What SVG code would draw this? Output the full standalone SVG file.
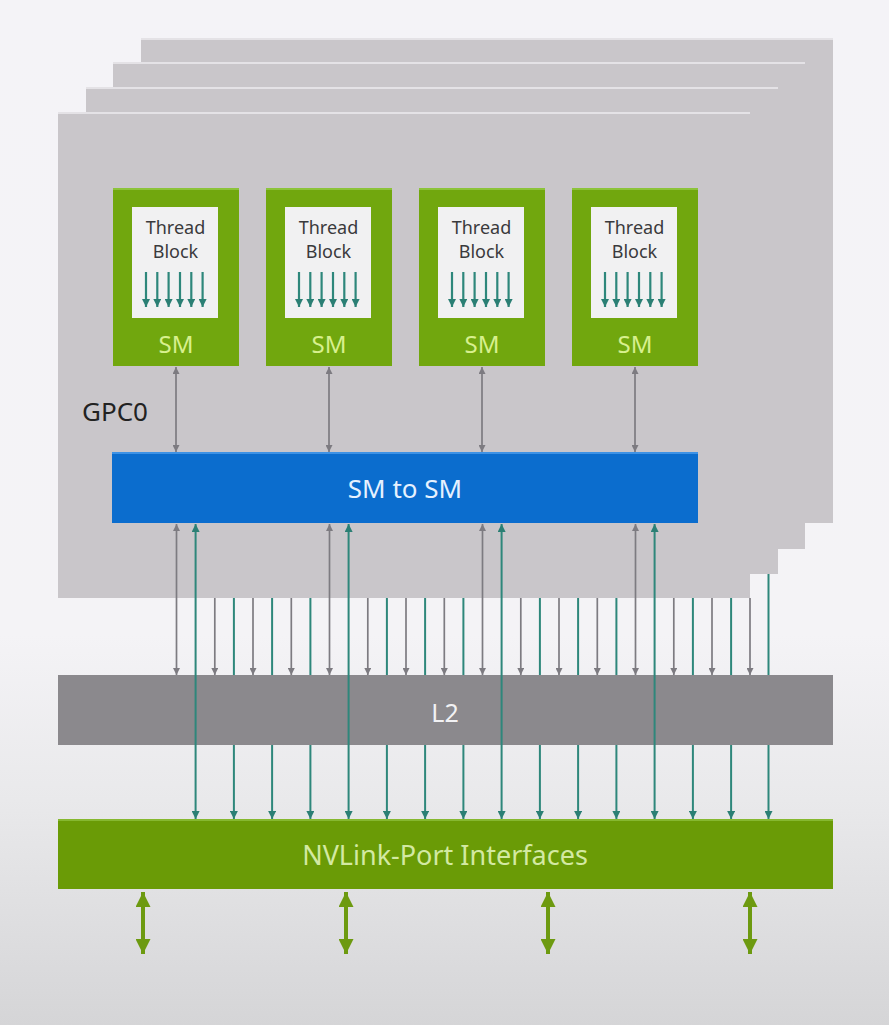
<svg xmlns="http://www.w3.org/2000/svg" width="889" height="1025" viewBox="0 0 889 1025">
<defs>
<linearGradient id="bg" x1="0" y1="0" x2="0" y2="1">
<stop offset="0" stop-color="#f4f3f7"/>
<stop offset="0.62" stop-color="#f4f3f6"/>
<stop offset="0.78" stop-color="#e9e9eb"/>
<stop offset="1" stop-color="#d5d5d7"/>
</linearGradient>
<marker id="ag" viewBox="0 0 8 8" refX="8" refY="4" markerWidth="7" markerHeight="7" markerUnits="userSpaceOnUse" orient="auto-start-reverse"><path d="M0,0 L8,4 L0,8 z" fill="#7d7b81"/></marker>
<marker id="at" viewBox="0 0 8 8" refX="8" refY="4" markerWidth="8" markerHeight="8" markerUnits="userSpaceOnUse" orient="auto-start-reverse"><path d="M0,0 L8,4 L0,8 z" fill="#2b7f74"/></marker>
<marker id="atb" viewBox="0 0 8 8" refX="8" refY="4" markerWidth="8" markerHeight="8" markerUnits="userSpaceOnUse" orient="auto"><path d="M0,0 L8,4 L0,8 z" fill="#2b7f74"/></marker>
<marker id="agr" viewBox="0 0 16 16" refX="16" refY="8" markerWidth="15" markerHeight="15" markerUnits="userSpaceOnUse" orient="auto-start-reverse"><path d="M0,0 L16,8 L0,16 z" fill="#6d9a10"/></marker>
<g id="tbarrows" stroke="#2e877b" stroke-width="2.2" marker-end="url(#atb)">
<line x1="33" y1="84" x2="33" y2="119"/><line x1="44.3" y1="84" x2="44.3" y2="119"/><line x1="55.6" y1="84" x2="55.6" y2="119"/><line x1="67" y1="84" x2="67" y2="119"/><line x1="78.3" y1="84" x2="78.3" y2="119"/><line x1="89.6" y1="84" x2="89.6" y2="119"/>
</g>
</defs>
<style>
.layer{fill:#c9c6ca;}
.edge{fill:#e4e2e6;}
.smbox{fill:#71a70e;}
.smtop{fill:#8cc33a;}
.tb{fill:#f1f1f2;}
.tbt{font-family:"Noto Sans","Open Sans",sans-serif;font-size:18px;fill:#3a3a3c;text-anchor:middle;}
.smt{font-family:"Noto Sans","Open Sans",sans-serif;font-size:24px;fill:#d8f08e;text-anchor:middle;}
.lbl{font-family:"Noto Sans","Open Sans",sans-serif;text-anchor:middle;}
.ga{stroke:#7d7b81;stroke-width:1.7;fill:none;}
.ta{stroke:#2e877b;stroke-width:2;fill:none;}
.gr{stroke:#6d9a10;stroke-width:4;fill:none;}
</style>
<rect x="0" y="0" width="889" height="1025" fill="url(#bg)"/>
<g id="gpc-layers">
<rect class="layer" x="141" y="38" width="692" height="485"/>
<rect class="edge" x="141" y="38" width="692" height="2"/>
<rect class="layer" x="113" y="62" width="692" height="487"/>
<rect class="edge" x="113" y="62" width="692" height="2"/>
<rect class="layer" x="86" y="87" width="692" height="487"/>
<rect class="edge" x="86" y="87" width="692" height="2"/>
<rect class="layer" x="58" y="112" width="692" height="486"/>
<rect class="edge" x="58" y="112" width="692" height="2"/>
</g>
<g id="gpc0-label"><text class="lbl" x="115" y="421" font-size="26" fill="#222">GPC0</text></g>
<g id="sm0" transform="translate(113,188)">
<rect class="smbox" x="0" y="0" width="126" height="178"/><rect class="smtop" x="0" y="0" width="126" height="2"/>
<rect class="tb" x="19" y="19" width="86" height="111"/>
<text class="tbt" x="62.5" y="46">Thread</text><text class="tbt" x="62.5" y="70">Block</text>
<use href="#tbarrows"/>
<text class="smt" x="63" y="165">SM</text>
</g>
<g id="sm1" transform="translate(266,188)">
<rect class="smbox" x="0" y="0" width="126" height="178"/><rect class="smtop" x="0" y="0" width="126" height="2"/>
<rect class="tb" x="19" y="19" width="86" height="111"/>
<text class="tbt" x="62.5" y="46">Thread</text><text class="tbt" x="62.5" y="70">Block</text>
<use href="#tbarrows"/>
<text class="smt" x="63" y="165">SM</text>
</g>
<g id="sm2" transform="translate(419,188)">
<rect class="smbox" x="0" y="0" width="126" height="178"/><rect class="smtop" x="0" y="0" width="126" height="2"/>
<rect class="tb" x="19" y="19" width="86" height="111"/>
<text class="tbt" x="62.5" y="46">Thread</text><text class="tbt" x="62.5" y="70">Block</text>
<use href="#tbarrows"/>
<text class="smt" x="63" y="165">SM</text>
</g>
<g id="sm3" transform="translate(572,188)">
<rect class="smbox" x="0" y="0" width="126" height="178"/><rect class="smtop" x="0" y="0" width="126" height="2"/>
<rect class="tb" x="19" y="19" width="86" height="111"/>
<text class="tbt" x="62.5" y="46">Thread</text><text class="tbt" x="62.5" y="70">Block</text>
<use href="#tbarrows"/>
<text class="smt" x="63" y="165">SM</text>
</g>
<g id="sm-to-sm">
<rect x="112" y="452" width="586" height="71" fill="#0b6dce"/>
<rect x="112" y="452" width="586" height="2" fill="#3d92e6"/>
<text class="lbl" x="405" y="498" font-size="26" fill="#e6f1ff">SM to SM</text>
</g>
<g id="connectors-upper">
<line class="ga" x1="176" y1="367" x2="176" y2="452" marker-start="url(#ag)" marker-end="url(#ag)"/>
<line class="ga" x1="329" y1="367" x2="329" y2="452" marker-start="url(#ag)" marker-end="url(#ag)"/>
<line class="ga" x1="482" y1="367" x2="482" y2="452" marker-start="url(#ag)" marker-end="url(#ag)"/>
<line class="ga" x1="635" y1="367" x2="635" y2="452" marker-start="url(#ag)" marker-end="url(#ag)"/>
<line class="ga" x1="214.8" y1="598" x2="214.8" y2="675" marker-end="url(#ag)"/>
<line class="ga" x1="253" y1="598" x2="253" y2="675" marker-end="url(#ag)"/>
<line class="ga" x1="291.3" y1="598" x2="291.3" y2="675" marker-end="url(#ag)"/>
<line class="ga" x1="367.8" y1="598" x2="367.8" y2="675" marker-end="url(#ag)"/>
<line class="ga" x1="406" y1="598" x2="406" y2="675" marker-end="url(#ag)"/>
<line class="ga" x1="444.3" y1="598" x2="444.3" y2="675" marker-end="url(#ag)"/>
<line class="ga" x1="520.8" y1="598" x2="520.8" y2="675" marker-end="url(#ag)"/>
<line class="ga" x1="559" y1="598" x2="559" y2="675" marker-end="url(#ag)"/>
<line class="ga" x1="597.3" y1="598" x2="597.3" y2="675" marker-end="url(#ag)"/>
<line class="ga" x1="673.8" y1="598" x2="673.8" y2="675" marker-end="url(#ag)"/>
<line class="ga" x1="712" y1="598" x2="712" y2="675" marker-end="url(#ag)"/>
<line class="ga" x1="750" y1="598" x2="750" y2="675" marker-end="url(#ag)"/>
<line class="ga" x1="176.5" y1="524" x2="176.5" y2="675" marker-start="url(#ag)" marker-end="url(#ag)"/>
<line class="ga" x1="329.5" y1="524" x2="329.5" y2="675" marker-start="url(#ag)" marker-end="url(#ag)"/>
<line class="ga" x1="482.5" y1="524" x2="482.5" y2="675" marker-start="url(#ag)" marker-end="url(#ag)"/>
<line class="ga" x1="635.5" y1="524" x2="635.5" y2="675" marker-start="url(#ag)" marker-end="url(#ag)"/>
<line class="ta" x1="233.9" y1="598" x2="233.9" y2="676"/>
<line class="ta" x1="272.1" y1="598" x2="272.1" y2="676"/>
<line class="ta" x1="310.4" y1="598" x2="310.4" y2="676"/>
<line class="ta" x1="386.9" y1="598" x2="386.9" y2="676"/>
<line class="ta" x1="425.1" y1="598" x2="425.1" y2="676"/>
<line class="ta" x1="463.4" y1="598" x2="463.4" y2="676"/>
<line class="ta" x1="539.9" y1="598" x2="539.9" y2="676"/>
<line class="ta" x1="578.1" y1="598" x2="578.1" y2="676"/>
<line class="ta" x1="616.4" y1="598" x2="616.4" y2="676"/>
<line class="ta" x1="692.9" y1="598" x2="692.9" y2="676"/>
<line class="ta" x1="731.1" y1="598" x2="731.1" y2="676"/>
<line class="ta" x1="768.5" y1="574" x2="768.5" y2="676"/>
</g>
<g id="l2">
<rect x="58" y="675" width="775" height="70" fill="#8b898d"/>
<text class="lbl" x="445" y="722" font-size="25" fill="#f2f2f4">L2</text>
</g>
<g id="nvlink">
<rect x="58" y="819" width="775" height="70" fill="#6a9b06"/>
<rect x="58" y="819" width="775" height="2" fill="#86b830"/>
<text class="lbl" x="445" y="865" font-size="27" fill="#d3e9a2">NVLink-Port Interfaces</text>
</g>
<g id="connectors-lower">
<line class="ta" x1="195.6" y1="524" x2="195.6" y2="819" marker-start="url(#at)" marker-end="url(#at)"/>
<line class="ta" x1="348.6" y1="524" x2="348.6" y2="819" marker-start="url(#at)" marker-end="url(#at)"/>
<line class="ta" x1="501.6" y1="524" x2="501.6" y2="819" marker-start="url(#at)" marker-end="url(#at)"/>
<line class="ta" x1="654.6" y1="524" x2="654.6" y2="819" marker-start="url(#at)" marker-end="url(#at)"/>
<line class="ta" x1="233.9" y1="745" x2="233.9" y2="819" marker-end="url(#at)"/>
<line class="ta" x1="272.1" y1="745" x2="272.1" y2="819" marker-end="url(#at)"/>
<line class="ta" x1="310.4" y1="745" x2="310.4" y2="819" marker-end="url(#at)"/>
<line class="ta" x1="386.9" y1="745" x2="386.9" y2="819" marker-end="url(#at)"/>
<line class="ta" x1="425.1" y1="745" x2="425.1" y2="819" marker-end="url(#at)"/>
<line class="ta" x1="463.4" y1="745" x2="463.4" y2="819" marker-end="url(#at)"/>
<line class="ta" x1="539.9" y1="745" x2="539.9" y2="819" marker-end="url(#at)"/>
<line class="ta" x1="578.1" y1="745" x2="578.1" y2="819" marker-end="url(#at)"/>
<line class="ta" x1="616.4" y1="745" x2="616.4" y2="819" marker-end="url(#at)"/>
<line class="ta" x1="692.9" y1="745" x2="692.9" y2="819" marker-end="url(#at)"/>
<line class="ta" x1="731.1" y1="745" x2="731.1" y2="819" marker-end="url(#at)"/>
<line class="ta" x1="768.5" y1="745" x2="768.5" y2="819" marker-end="url(#at)"/>
<line class="gr" x1="143" y1="892" x2="143" y2="954" marker-start="url(#agr)" marker-end="url(#agr)"/>
<line class="gr" x1="346" y1="892" x2="346" y2="954" marker-start="url(#agr)" marker-end="url(#agr)"/>
<line class="gr" x1="548" y1="892" x2="548" y2="954" marker-start="url(#agr)" marker-end="url(#agr)"/>
<line class="gr" x1="750" y1="892" x2="750" y2="954" marker-start="url(#agr)" marker-end="url(#agr)"/>
</g>
</svg>
